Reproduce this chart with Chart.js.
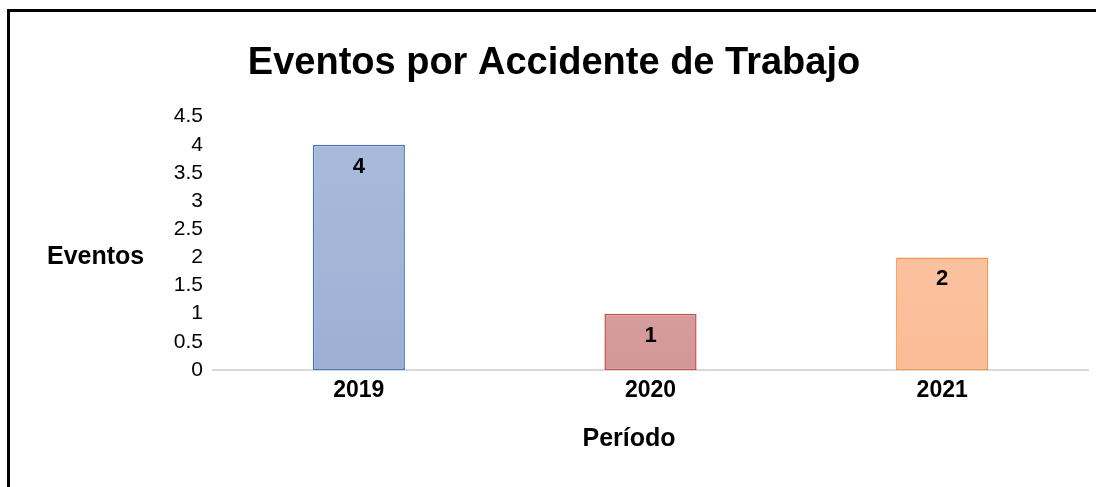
<!DOCTYPE html>
<html>
<head>
<meta charset="utf-8">
<script src="https://cdn.jsdelivr.net/npm/chart.js@4"></script>
<style>
  body { margin: 0; background: #fff; }
  #wrap { position: relative; width: 1096px; height: 487px; overflow: hidden; }
  #frame { position: absolute; left: 7px; top: 9px; width: 1200px; height: 600px; border: 3px solid #000; pointer-events: none; }
</style>
</head>
<body>
<div id="wrap">
  <canvas id="canvas" width="1096" height="487"></canvas>
  <div id="frame"></div>
</div>
<script>
const categories = ["2019", "2020", "2021"]
const eventos = [4, 1, 2]
const fillTop = ["#aabcdc", "#dca9a9", "#fbc9aa"]
const fillBottom = ["#9db0d4", "#d49797", "#fbbc97"]
const borders = ["#4a74bb", "#c6504d", "#f7964a"]

const font = "'Liberation Sans', Arial, sans-serif"

// etiquetas de valor y titulos de ejes
const extras = {
  id: 'extras',
  afterDatasetsDraw(chart) {
    const ctx = chart.ctx
    const area = chart.chartArea
    ctx.save()
    ctx.fillStyle = "#000"
    ctx.font = "bold 22px " + font
    ctx.textAlign = "center"
    ctx.textBaseline = "middle"
    chart.getDatasetMeta(0).data.forEach((bar, i) => {
      ctx.fillText(eventos[i], bar.x, bar.y + 22)
    })
    ctx.font = "bold 25px " + font
    // eje y
    ctx.textAlign = "left"
    ctx.fillText("Eventos", 47, chart.scales.y.getPixelForValue(2))
    // eje x
    ctx.textAlign = "center"
    ctx.fillText("Período", 629, area.bottom + 69)
    ctx.restore()
  }
}

const ctx = document.getElementById('canvas')
const myChart = new Chart(ctx, {
  type: 'bar',
  data: {
    labels: categories,
    datasets: [{
      label: 'Eventos',
      data: eventos,
      backgroundColor: (c) => {
        const area = c.chart.chartArea
        if (!area) return fillTop[c.dataIndex]
        const g = c.chart.ctx.createLinearGradient(0, area.top, 0, area.bottom)
        g.addColorStop(0, fillTop[c.dataIndex])
        g.addColorStop(1, fillBottom[c.dataIndex])
        return g
      },
      borderColor: borders,
      borderWidth: 1.5,
      borderSkipped: false,
      barPercentage: 0.316,
      categoryPercentage: 1
    }]
  },
  plugins: [extras],
  options: {
    responsive: false,
    animation: false,
    layout: { padding: { left: 20, right: 8, top: 0, bottom: 0 } },
    plugins: {
      legend: { display: false },
      tooltip: { enabled: false },
      title: {
        display: true,
        text: 'Eventos por Accidente de Trabajo',
        color: '#000',
        font: { family: font, size: 38, weight: 'bold' },
        padding: { top: 41, bottom: 30 }
      }
    },
    scales: {
      x: {
        grid: { display: false, drawTicks: false },
        border: { display: true, color: '#d9d9d9', width: 2 },
        ticks: { color: '#000', font: { family: font, size: 23, weight: 'bold' }, padding: 7 },
        afterFit: (s) => { s.height = 117 }
      },
      y: {
        min: 0,
        max: 4.5,
        grid: { display: false, drawTicks: false },
        border: { display: false },
        ticks: {
          stepSize: 0.5,
          autoSkip: false,
          color: '#000',
          font: { family: font, size: 21, lineHeight: 1 },
          padding: 10,
          callback: (v) => String(v)
        },
        afterFit: (s) => { s.width = 193 }
      }
    }
  }
})
</script>
</body>
</html>
